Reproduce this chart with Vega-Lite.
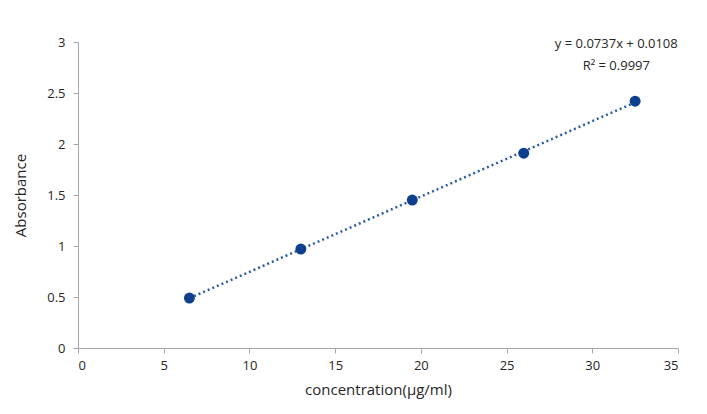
{
  "$schema": "https://vega.github.io/schema/vega-lite/v6.json",
  "autosize": "none",
  "padding": {"left": 78, "top": 42, "right": 29, "bottom": 66},
  "width": 600,
  "height": 306,
  "background": "white",
  "config": {
    "view": {"stroke": null},
    "font": "Open Sans",
    "axis": {
      "grid": false,
      "domainColor": "#a6a6a6",
      "tickColor": "#a6a6a6",
      "tickSize": 5,
      "labelColor": "#262626",
      "labelFontSize": 13,
      "labelFont": "Open Sans",
      "titleFont": "Open Sans",
      "titleColor": "#262626",
      "titleFontSize": 15,
      "titleFontWeight": "normal"
    }
  },
  "data": {
    "values": [
      {"concentration": 6.5, "absorbance": 0.49},
      {"concentration": 13, "absorbance": 0.97},
      {"concentration": 19.5, "absorbance": 1.45},
      {"concentration": 26, "absorbance": 1.91},
      {"concentration": 32.5, "absorbance": 2.42}
    ]
  },
  "layer": [
    {
      "transform": [{"regression": "absorbance", "on": "concentration"}],
      "mark": {"type": "line", "color": "#2b5ca8", "strokeWidth": 2.5, "strokeDash": [2, 3]},
      "encoding": {
        "x": {"field": "concentration", "type": "quantitative"},
        "y": {"field": "absorbance", "type": "quantitative"}
      }
    },
    {
      "mark": {"type": "circle", "color": "#0f3f8f", "opacity": 1, "size": 120},
      "encoding": {
        "x": {
          "field": "concentration",
          "type": "quantitative",
          "scale": {"domain": [0, 35], "nice": false},
          "axis": {"values": [0, 5, 10, 15, 20, 25, 30, 35], "title": "concentration(µg/ml)", "labelPadding": 6, "titlePadding": 10}
        },
        "y": {
          "field": "absorbance",
          "type": "quantitative",
          "scale": {"domain": [0, 3], "nice": false},
          "axis": {"values": [0, 0.5, 1, 1.5, 2, 2.5, 3], "format": "~g", "title": "Absorbance", "labelPadding": 8, "titlePadding": 18}
        }
      }
    },
    {
      "data": {"values": [{"label": "fit"}]},
      "mark": {"type": "text", "align": "center", "baseline": "middle", "font": "Open Sans", "fontSize": 13, "fontWeight": "normal", "color": "#262626", "lineHeight": 22},
      "encoding": {
        "x": {"datum": 31.4, "type": "quantitative"},
        "y": {"datum": 2.98, "type": "quantitative"},
        "text": {"value": ["y = 0.0737x + 0.0108", "R² = 0.9997"]}
      }
    }
  ]
}
